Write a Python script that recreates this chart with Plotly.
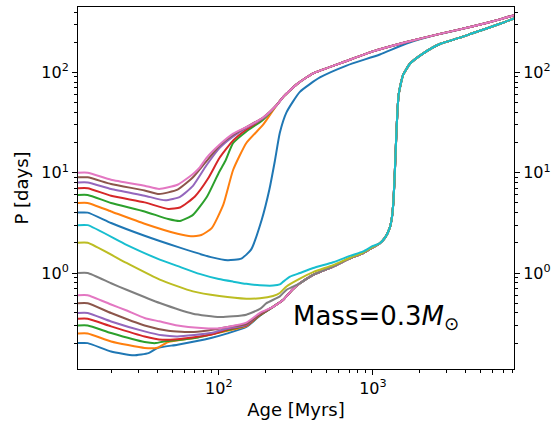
import math
import plotly.graph_objects as go

# initial rotation periods (days), one track each
initial_periods = [0.2, 0.25, 0.3, 0.35, 0.4, 0.5, 0.6, 1, 2, 3, 4, 5, 6, 7, 8, 9, 10]
start_ages = [12.2, 14.1]  # flat start of every track (Myr)

# own part of each track after the flat start: ages (Myr) and periods (days)
track_ages = [
    [20, 28, 35, 40, 54, 89, 114, 151, 185],
    [20, 33, 40, 47, 69, 114, 151, 185],
    [20, 33, 39, 44, 70, 114, 151, 185],
    [20, 33, 43, 54, 89, 114, 151, 185],
    [20, 33, 43, 54, 89, 114, 151, 185],
    [20, 33, 47, 69, 95, 114, 151, 185],
    [20, 25, 33, 41, 54, 77, 98, 114, 151, 185],
    [20, 25.2, 41.4, 68, 101, 124, 151, 185, 204, 249, 275],
    [25.2, 41.4, 68, 101, 151, 185, 225, 249, 275, 336, 410, 552, 710, 865, 1000],
    [25.2, 41.4, 56, 75, 100, 124, 151, 185, 225, 249, 262, 290, 336, 410, 552, 710, 865, 1000],
    [20, 33, 54, 89, 114, 140, 162, 190, 213, 231, 249, 275, 336, 453, 675, 1110, 1655],
    [20, 33, 54, 66, 77, 90, 107, 124, 151, 194],
    [20, 33, 47, 56, 68, 84, 100, 110, 124, 151, 194],
    [20, 33, 47, 56, 70, 85, 101, 124, 151, 194],
    [20, 33, 45, 56, 68, 83, 101, 124, 151, 194],
    [20, 33, 41, 54, 68, 83, 101, 124, 151, 194],
    [20, 33, 41, 54, 68, 75, 83, 101, 124, 151, 194],
]
track_periods = [
    [0.165, 0.151, 0.159, 0.179, 0.193, 0.225, 0.25, 0.29, 0.375],
    [0.208, 0.179, 0.18, 0.205, 0.225, 0.265, 0.295, 0.38],
    [0.252, 0.205, 0.2, 0.208, 0.225, 0.27, 0.30, 0.38],
    [0.294, 0.233, 0.216, 0.219, 0.243, 0.275, 0.30, 0.385],
    [0.329, 0.262, 0.239, 0.233, 0.252, 0.28, 0.305, 0.39],
    [0.399, 0.30, 0.266, 0.258, 0.275, 0.29, 0.31, 0.39],
    [0.485, 0.425, 0.356, 0.33, 0.30, 0.283, 0.28, 0.29, 0.32, 0.40],
    [0.79, 0.681, 0.502, 0.393, 0.364, 0.37, 0.384, 0.438, 0.50, 0.585, 0.68],
    [1.26, 0.86, 0.656, 0.59, 0.555, 0.56, 0.59, 0.632, 0.735, 0.88, 1.02, 1.20, 1.42, 1.60, 1.82],
    [1.91, 1.36, 1.15, 0.98, 0.87, 0.82, 0.78, 0.755, 0.75, 0.77, 0.82, 0.92, 1.0, 1.12, 1.28, 1.48, 1.64, 1.86],
    [3.15, 2.35, 1.82, 1.44, 1.34, 1.39, 1.71, 3.4, 6.8, 13, 25, 40, 64, 89, 117, 151, 194],
    [4.11, 3.10, 2.46, 2.32, 2.39, 2.8, 4.8, 10.7, 19.8, 30.1],
    [4.99, 4.11, 3.45, 3.3, 3.8, 5.8, 10, 13, 19.8, 25.8, 33.8],
    [5.90, 5.06, 4.35, 4.5, 5.8, 8.7, 14, 21, 27, 35],
    [6.88, 5.90, 5.30, 5.75, 7.4, 11.8, 17.6, 23, 28, 35],
    [7.71, 6.66, 6.13, 6.77, 9.0, 13, 18.6, 23.9, 28.5, 35.5],
    [8.51, 7.42, 6.88, 7.59, 9.7, 11.2, 14, 19, 24.5, 28.5, 35.5],
]

# fast rotators: common bundle, then common slow branch
bundle_ages = [225, 262, 300]
bundle_periods = [0.46, 0.54, 0.68]
lower_ages = [336, 410, 552, 710, 865, 1000, 1110, 1200, 1290, 1330, 1360, 1390, 1420,
              1445, 1470, 1520, 1574, 1740, 2124, 2723, 3672, 4478, 6680, 8240]
lower_periods = [0.79, 0.96, 1.16, 1.40, 1.58, 1.80, 1.98, 2.25, 2.85, 3.6, 5.2, 10.5, 24,
                 42, 60, 78, 95, 122, 155, 192, 222, 247, 305, 345]
# slow rotators: common upper branch
upper_ages = [237, 262, 289, 320, 370, 410, 675, 1000, 1655, 2723, 4478, 6680, 8240]
upper_periods = [47, 57, 66, 76, 89, 98, 130, 162, 201, 242, 288, 338, 372]

colors = ['#1f77b4', '#ff7f0e', '#2ca02c', '#d62728', '#9467bd',
          '#8c564b', '#e377c2', '#7f7f7f', '#bcbd22', '#17becf']

fig = go.Figure()

for i, p0 in enumerate(initial_periods):
    xs = start_ages + track_ages[i]
    ys = [p0, p0] + track_periods[i]
    if p0 < 1:
        xs = xs + bundle_ages
        ys = ys + bundle_periods
    if p0 <= 3:
        tail = [(a, p) for a, p in zip(lower_ages, lower_periods) if a > xs[-1]]
    else:
        tail = [(a, p) for a, p in zip(upper_ages, upper_periods) if a > xs[-1]]
    xs = xs + [a for a, p in tail]
    ys = ys + [p for a, p in tail]
    fig.add_trace(go.Scatter(x=xs, y=ys, mode='lines',
                             line=dict(color=colors[i % 10], width=2, shape='spline', smoothing=0.5),
                             showlegend=False, hoverinfo='skip'))

# dummy trace so the right-hand axis is drawn
fig.add_trace(go.Scatter(x=[100], y=[1], yaxis='y2', mode='markers',
                         marker=dict(opacity=0), showlegend=False, hoverinfo='skip'))

xminor = [v * 10 ** d for d in (1, 2, 3) for v in range(2, 10)]
yminor = [v * 10 ** d for d in (-1, 0, 1, 2) for v in range(2, 10)]
yrange = [-0.957, 2.652]
font = dict(family='DejaVu Sans', size=16, color='black')

fig.update_layout(
    width=557, height=423,
    margin=dict(l=78, r=43, t=7, b=54, autoexpand=False),
    plot_bgcolor='white', paper_bgcolor='white',
    font=font,
    xaxis=dict(type='log', range=[math.log10(12.2), math.log10(8240)],
               tickvals=[100, 1000], ticktext=['10<sup>2</sup>', '10<sup>3</sup>'],
               ticks='outside', ticklen=5, tickcolor='black',
               minor=dict(tickvals=xminor, ticks='outside', ticklen=3, tickcolor='black'),
               showgrid=False, zeroline=False, showline=True, linecolor='black',
               linewidth=1, mirror=True, automargin=False,
               title=dict(text='Age [Myrs]', font=dict(size=18), standoff=6)),
    yaxis=dict(type='log', range=yrange,
               tickvals=[1, 10, 100], ticktext=['10<sup>0</sup>', '10<sup>1</sup>', '10<sup>2</sup>'],
               ticks='outside', ticklen=5, tickcolor='black',
               minor=dict(tickvals=yminor, ticks='outside', ticklen=3, tickcolor='black'),
               showgrid=False, zeroline=False, showline=True, linecolor='black',
               linewidth=1, mirror=True, automargin=False,
               title=dict(text='P [days]', font=dict(size=18), standoff=8)),
    yaxis2=dict(type='log', range=yrange, overlaying='y', side='right',
                tickvals=[1, 10, 100], ticktext=['10<sup>0</sup>', '10<sup>1</sup>', '10<sup>2</sup>'],
                ticks='outside', ticklen=5, tickcolor='black',
                minor=dict(tickvals=yminor, ticks='outside', ticklen=3, tickcolor='black'),
                showgrid=False, zeroline=False, showline=False, automargin=False),
)

fig.add_annotation(x=math.log10(295), y=math.log10(0.36), xref='x', yref='y',
                   text='Mass=0.3<i>M</i><sub>⊙</sub>', showarrow=False,
                   xanchor='left', yanchor='middle',
                   font=dict(family='DejaVu Sans', size=26, color='black'))

fig.write_html("out.html", config={'displayModeBar': False},
               post_script="document.body.style.margin='0px';")
